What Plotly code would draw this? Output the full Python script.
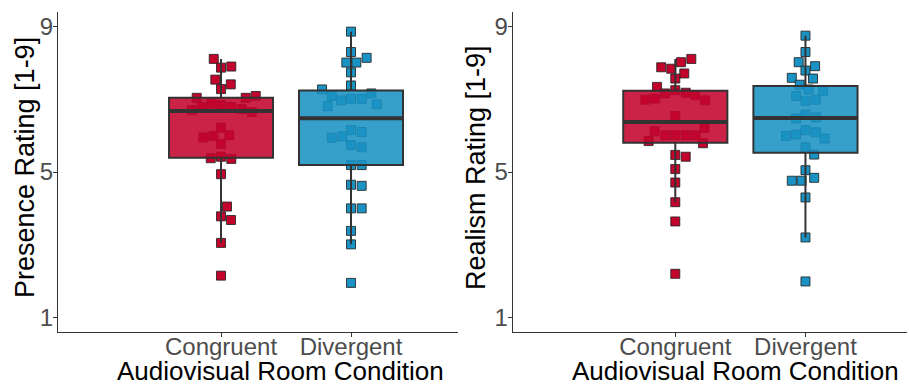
import numpy as np
import plotly.graph_objects as go

# ---- data -------------------------------------------------------------
conditions = ["Congruent", "Divergent"]
cond_pos = [1, 2]

presence_congruent = [8.11, 7.87, 7.90, 7.54, 7.41, 7.28, 7.04, 7.04, 7.09, 6.70,
                      6.79, 6.88, 6.84, 6.79, 6.73, 6.65, 6.22, 5.95, 5.99, 6.01,
                      5.77, 5.38, 5.42, 5.36, 4.94, 4.05, 3.78, 3.68, 3.05, 2.15]
presence_divergent = [8.86, 8.30, 8.01, 8.01, 8.14, 7.74, 7.38, 7.27, 7.16, 7.09,
                      6.97, 7.01, 7.01, 6.81, 6.86, 5.94, 5.98, 6.15, 6.10, 5.74,
                      5.68, 5.19, 5.19, 4.65, 4.62, 4.00, 4.00, 3.38, 3.01, 1.95]
realism_congruent = [8.11, 8.02, 7.88, 7.84, 7.71, 7.57, 7.34, 7.16, 7.25, 7.18,
                     6.99, 7.02, 7.11, 6.97, 6.54, 6.12, 6.01, 6.01, 6.01, 6.01,
                     6.21, 5.85, 5.79, 5.47, 5.42, 5.08, 4.71, 4.17, 3.64, 2.20]
realism_divergent = [8.75, 8.30, 8.02, 7.91, 7.79, 7.59, 7.57, 7.40, 7.27, 7.23,
                     7.09, 6.96, 6.99, 6.47, 6.58, 6.50, 5.99, 6.03, 6.15, 6.09,
                     5.92, 5.68, 5.48, 5.05, 4.76, 4.76, 4.84, 4.30, 3.20, 1.99]

# horizontal jitter of the individual points (category units)
jitter_presence_congruent = [-0.056, 0, 0.079, -0.044, 0.075, 0, -0.187, 0.19, 0.267, -0.223,
                             -0.146, -0.074, 0, 0.08, 0.16, 0.236, 0, -0.136, -0.059, 0.064,
                             0, -0.079, 0, 0.079, 0, 0.046, 0, 0.077, 0, 0]
jitter_presence_divergent = [0, 0, -0.036, 0.041, 0.12, 0, 0, -0.223, 0.156, -0.148,
                             -0.077, 0, 0.082, -0.18, 0.198, -0.148, -0.067, 0, 0.082, 0,
                             0.082, 0, 0.082, 0, 0.082, 0, 0.082, 0, 0, 0]
jitter_realism_congruent = [0.123, 0.044, -0.108, -0.031, 0.069, 0, -0.14, -0.077, 0, 0.08,
                            -0.23, -0.154, 0.154, 0.23, 0, -0.159, -0.077, 0, 0.08, 0.156,
                            0.225, -0.205, 0.213, 0, 0.08, 0, 0, 0, 0, 0]
jitter_realism_divergent = [0, 0, -0.052, 0.074, 0, -0.105, 0.058, -0.044, 0.025, 0.136,
                            -0.072, 0, 0.08, -0.072, 0, 0.08, -0.15, -0.072, 0, 0.08,
                            0.147, 0, 0.067, 0, -0.105, -0.03, 0.067, 0, 0, 0]

y_ticks = [1, 5, 9]
y_titles = ["Presence Rating [1-9]", "Realism Rating [1-9]"]
x_title = "Audiovisual Room Condition"

# ---- style ------------------------------------------------------------
FONT = "Liberation Sans, Arial, sans-serif"
POINT_COLORS = ["#C3042D", "#1A92C3"]
BOX_FILLS = ["rgba(195,4,45,0.88)", "rgba(26,146,195,0.88)"]
DARK = "#333333"
BOX_WIDTH = 0.8

panels = [
    ([presence_congruent, presence_divergent],
     [jitter_presence_congruent, jitter_presence_divergent]),
    ([realism_congruent, realism_divergent],
     [jitter_realism_congruent, jitter_realism_divergent]),
]


def box_stats(values):
    v = np.sort(np.asarray(values, dtype=float))
    q1, med, q3 = np.percentile(v, [25, 50, 75])
    iqr = q3 - q1
    lo = v[v >= q1 - 1.5 * iqr].min()
    hi = v[v <= q3 + 1.5 * iqr].max()
    return q1, med, q3, lo, hi


fig = go.Figure()

for p, (groups, jitters) in enumerate(panels):
    base = "" if p == 0 else "2"
    over = str(p + 3)
    for g, (vals, jit) in enumerate(zip(groups, jitters)):
        xs = [cond_pos[g] + j for j in jit]
        fig.add_trace(go.Scatter(
            x=xs, y=vals, mode="markers",
            marker=dict(symbol="square", size=9, color=POINT_COLORS[g],
                        line=dict(color="rgba(35,35,35,0.85)", width=1)),
            xaxis="x" + base, yaxis="y" + base, showlegend=False, hoverinfo="y"))

        q1, med, q3, lo, hi = box_stats(vals)
        fig.add_trace(go.Box(
            x=[cond_pos[g]], q1=[q1], median=[med], q3=[q3],
            lowerfence=[lo], upperfence=[hi], width=BOX_WIDTH,
            fillcolor=BOX_FILLS[g], line=dict(color=DARK, width=2),
            whiskerwidth=0, boxpoints=False,
            xaxis="x" + over, yaxis="y" + over, showlegend=False))
        # heavier median bar
        fig.add_trace(go.Scatter(
            x=[cond_pos[g] - BOX_WIDTH / 2, cond_pos[g] + BOX_WIDTH / 2], y=[med, med],
            mode="lines", line=dict(color=DARK, width=4),
            xaxis="x" + over, yaxis="y" + over, showlegend=False, hoverinfo="skip"))

W, H = 909, 385
y_dom = [1 - 332 / H, 1 - 12 / H]
x_doms = [[58 / W, 458 / W], [512.7 / W, 907 / W]]
x_ranges = [[-0.254, 2.823], [-0.249, 2.78]]
y_range = [0.6, 9.4]

axis_common = dict(showgrid=False, zeroline=False, showline=True, linecolor=DARK,
                   linewidth=1, ticks="outside", ticklen=4, tickwidth=1, tickcolor=DARK,
                   tickfont=dict(family=FONT, size=24, color="#4D4D4D"))

layout = dict(
    width=W, height=H, margin=dict(l=0, r=0, t=0, b=0),
    paper_bgcolor="white", plot_bgcolor="white", showlegend=False,
    font=dict(family=FONT),
)
for p in range(2):
    base = "" if p == 0 else "2"
    over = str(p + 3)
    layout["xaxis" + base] = dict(domain=x_doms[p], range=x_ranges[p], anchor="y" + base,
                                  tickvals=cond_pos, ticktext=conditions,
                                  ticklabelstandoff=-11, **axis_common)
    layout["yaxis" + base] = dict(domain=y_dom, range=y_range, anchor="x" + base,
                                  tickvals=y_ticks, ticktext=[str(t) for t in y_ticks],
                                  ticklabelstandoff=-5, **axis_common)
    layout["xaxis" + over] = dict(overlaying="x" + base, range=x_ranges[p], anchor="y" + over,
                                  visible=False)
    layout["yaxis" + over] = dict(overlaying="y" + base, range=y_range, anchor="x" + over,
                                  visible=False)

annotations = []
y_title_x = [25, 476]
for p in range(2):
    annotations.append(dict(text=y_titles[p], textangle=-90, xref="paper", yref="paper",
                            x=y_title_x[p] / W, y=1 - 168 / H,
                            xanchor="center", yanchor="middle", showarrow=False,
                            borderpad=0,
                            font=dict(family=FONT, size=27, color="black")))
    annotations.append(dict(text=x_title, xref="x" if p == 0 else "x2", yref="paper",
                            x=1.46, y=1 - 371 / H, xanchor="center", yanchor="middle",
                            showarrow=False, borderpad=0,
                            font=dict(family=FONT, size=26, color="black")))
layout["annotations"] = annotations

fig.update_layout(**layout)
fig.write_html("out.html")
